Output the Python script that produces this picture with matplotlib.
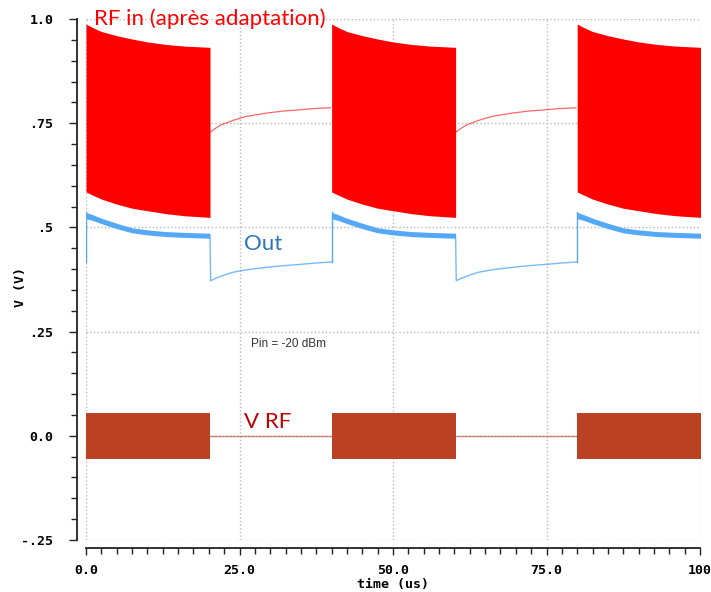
import numpy as np
import matplotlib
matplotlib.use("Agg")
import matplotlib.pyplot as plt
from matplotlib.ticker import MultipleLocator

# debut des salves RF (us)
burst_starts = [0, 40, 80]
burst_len = 20.2

# enveloppe RF in pendant la salve (temps relatif au debut de salve)
on_t = [0, 1, 2.5, 5, 7.5, 10, 13, 16, 20.2]
rf_top = [0.988, 0.980, 0.970, 0.960, 0.952, 0.945, 0.939, 0.935, 0.932]
rf_bot = [0.585, 0.578, 0.568, 0.556, 0.546, 0.540, 0.533, 0.528, 0.524]
# sortie pendant la salve (bande epaisse)
out_hi = [0.536, 0.531, 0.522, 0.510, 0.499, 0.494, 0.490, 0.488, 0.486]
out_lo = [0.521, 0.517, 0.509, 0.497, 0.487, 0.482, 0.478, 0.476, 0.474]

# entre les salves
off_t = [20.3, 21, 22, 23.8, 26, 29.3, 32, 34.7, 37, 39.8]
rf_off = [0.729, 0.737, 0.746, 0.756, 0.766, 0.774, 0.779, 0.782, 0.785, 0.787]
out_off = [0.372, 0.377, 0.383, 0.392, 0.398, 0.404, 0.408, 0.411, 0.414, 0.417]

vrf_amp = 0.055

xticks = [0, 25, 50, 75, 100]
xticklabels = ["0.0", "25.0", "50.0", "75.0", "100"]
yticks = [-0.25, 0.0, 0.25, 0.5, 0.75, 1.0]
yticklabels = ["-.25", "0.0", ".25", ".5", ".75", "1.0"]

red = "#ff0000"
blue = "#55a8f5"
brown = "#bb4125"

fig = plt.figure(figsize=(7.11, 5.92), dpi=100)
ax = fig.add_axes([86 / 711, 1 - 540 / 592, 614 / 711, 521 / 592])

on_t = np.array(on_t)
off_t = np.array(off_t)
for s in burst_starts:
    # RF in
    ax.fill_between(s + on_t, rf_bot, rf_top, color=red, lw=0)
    # Out
    ax.plot([s, s], [out_off[-1], out_hi[0]], color=blue, lw=1)
    ax.fill_between(s + on_t, out_lo, out_hi, color=blue, lw=0)
    # V RF
    ax.fill_between([s, s + burst_len], -vrf_amp, vrf_amp, color=brown, lw=0)
    if s + 40 <= 100:
        ax.plot(s + off_t, rf_off, color=red, lw=0.9, alpha=0.6)
        ax.plot(np.r_[s + burst_len, s + off_t, s + 40],
                np.r_[out_lo[-1], out_off, out_off[-1]], color=blue, lw=1, alpha=0.8)
        ax.plot([s + burst_len, s + 40], [0, 0], color=brown, lw=1, alpha=0.6)

ax.set_xlim(0, 100)
ax.set_ylim(-0.25, 1.0)

ax.grid(True, color="#b8b8b8", linestyle=":", lw=1)
ax.set_axisbelow(True)

for side in ["top", "right"]:
    ax.spines[side].set_visible(False)
ax.spines["left"].set_position(("outward", 6.5))
ax.spines["bottom"].set_position(("outward", 6))
for side in ["left", "bottom"]:
    ax.spines[side].set_linewidth(1.3)
    ax.spines[side].set_color("#222222")

tick_font = dict(family="DejaVu Sans Mono", weight="bold", size=9.5)
ax.set_xticks(xticks)
ax.set_xticklabels(xticklabels, **tick_font)
ax.set_yticks(yticks)
ax.set_yticklabels(yticklabels, **tick_font)
ax.xaxis.set_minor_locator(MultipleLocator(2.5))
ax.yaxis.set_minor_locator(MultipleLocator(0.05))
ax.tick_params(axis="both", which="both", direction="out", length=4, width=1, color="#222222")
ax.tick_params(axis="y", which="major", length=6, pad=11)
ax.tick_params(axis="x", which="major", length=5, pad=6)

ax.set_xlabel("time (us)", family="DejaVu Sans Mono", weight="bold", size=9.5, labelpad=1)
ax.set_ylabel("V (V)", family="DejaVu Sans Mono", weight="bold", size=9.5, va="center")
ax.yaxis.set_label_coords(-0.107, 0.485)

ax.text(1.3, 1.0, "RF in (après adaptation)", color=red, family="Lato", size=16, va="center")
ax.text(25.8, 0.46, "Out", color="#2e75b6", family="Lato", size=16, va="center")
ax.text(25.8, 0.034, "V RF", color="#c00000", family="Lato", size=16, va="center")
ax.text(26.9, 0.22, "Pin = -20 dBm", color="#333333", family="Liberation Sans", size=8.5, va="center")

fig.savefig("out.png", dpi=100)
